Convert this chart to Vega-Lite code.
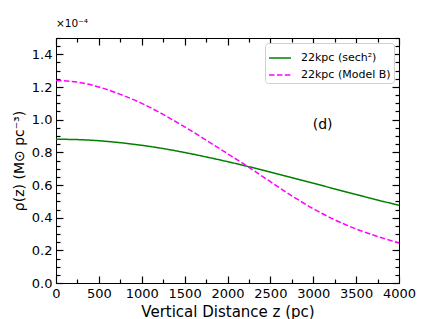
{
  "$schema": "https://vega.github.io/schema/vega-lite/v6.json",
  "width": 343,
  "height": 245,
  "autosize": {"type": "none"},
  "padding": {"left": 56, "top": 38, "right": 44, "bottom": 36},
  "background": "white",
  "config": {
    "font": "DejaVu Sans",
    "view": {"stroke": "black", "strokeWidth": 1},
    "axis": {"grid": false, "domainColor": "black", "tickColor": "black", "labelColor": "black", "titleColor": "black", "labelFont": "DejaVu Sans", "titleFont": "DejaVu Sans", "titleFontWeight": "normal"}
  },
  "title": {"text": "×10⁻⁴", "anchor": "start", "fontSize": 10.5, "fontWeight": "normal", "font": "DejaVu Sans", "color": "black", "offset": 3, "frame": "group"},
  "datasets": {
    "curves": [
      {"z": 0, "rho": 0.880, "series": "22kpc (sech²)"},
      {"z": 250, "rho": 0.878, "series": "22kpc (sech²)"},
      {"z": 500, "rho": 0.871, "series": "22kpc (sech²)"},
      {"z": 750, "rho": 0.859, "series": "22kpc (sech²)"},
      {"z": 1000, "rho": 0.843, "series": "22kpc (sech²)"},
      {"z": 1250, "rho": 0.823, "series": "22kpc (sech²)"},
      {"z": 1500, "rho": 0.799, "series": "22kpc (sech²)"},
      {"z": 1750, "rho": 0.772, "series": "22kpc (sech²)"},
      {"z": 2000, "rho": 0.743, "series": "22kpc (sech²)"},
      {"z": 2250, "rho": 0.712, "series": "22kpc (sech²)"},
      {"z": 2500, "rho": 0.679, "series": "22kpc (sech²)"},
      {"z": 2750, "rho": 0.645, "series": "22kpc (sech²)"},
      {"z": 3000, "rho": 0.611, "series": "22kpc (sech²)"},
      {"z": 3250, "rho": 0.576, "series": "22kpc (sech²)"},
      {"z": 3500, "rho": 0.542, "series": "22kpc (sech²)"},
      {"z": 3750, "rho": 0.508, "series": "22kpc (sech²)"},
      {"z": 4000, "rho": 0.476, "series": "22kpc (sech²)"},
      {"z": 0, "rho": 1.240, "series": "22kpc (Model B)"},
      {"z": 250, "rho": 1.230, "series": "22kpc (Model B)"},
      {"z": 500, "rho": 1.200, "series": "22kpc (Model B)"},
      {"z": 750, "rho": 1.155, "series": "22kpc (Model B)"},
      {"z": 1000, "rho": 1.100, "series": "22kpc (Model B)"},
      {"z": 1250, "rho": 1.032, "series": "22kpc (Model B)"},
      {"z": 1500, "rho": 0.956, "series": "22kpc (Model B)"},
      {"z": 1750, "rho": 0.875, "series": "22kpc (Model B)"},
      {"z": 2000, "rho": 0.792, "series": "22kpc (Model B)"},
      {"z": 2250, "rho": 0.708, "series": "22kpc (Model B)"},
      {"z": 2500, "rho": 0.620, "series": "22kpc (Model B)"},
      {"z": 2750, "rho": 0.534, "series": "22kpc (Model B)"},
      {"z": 3000, "rho": 0.455, "series": "22kpc (Model B)"},
      {"z": 3250, "rho": 0.387, "series": "22kpc (Model B)"},
      {"z": 3500, "rho": 0.331, "series": "22kpc (Model B)"},
      {"z": 3750, "rho": 0.285, "series": "22kpc (Model B)"},
      {"z": 4000, "rho": 0.245, "series": "22kpc (Model B)"}
    ],
    "labels": [
      {"z": 3110, "rho": 0.97, "label": "(d)"}
    ]
  },
  "layer": [
    {
      "data": {"name": "curves"},
      "mark": {"type": "line", "strokeWidth": 1.5, "interpolate": "monotone", "clip": true},
      "encoding": {
        "x": {"field": "z", "type": "quantitative",
          "scale": {"domain": [0, 4000], "nice": false},
          "axis": {
            "orient": "bottom",
            "values": [0,250,500,750,1000,1250,1500,1750,2000,2250,2500,2750,3000,3250,3500,3750,4000],
            "tickSize": {"condition": {"test": "datum.value % 500 === 0", "value": -7}, "value": -4},
            "tickWidth": 1.2,
            "labelExpr": "datum.value % 500 === 0 ? datum.label : ''",
            "format": "d",
            "labelFontSize": 13,
            "labelPadding": 11,
            "labelFlush": false,
            "labelOverlap": false,
            "title": "Vertical Distance z (pc)",
            "titleFontSize": 15,
            "titlePadding": 1
          }
        },
        "y": {"field": "rho", "type": "quantitative",
          "scale": {"domain": [0, 1.5], "nice": false},
          "axis": {
            "orient": "left",
            "values": [0,0.05,0.1,0.15,0.2,0.25,0.3,0.35,0.4,0.45,0.5,0.55,0.6,0.65,0.7,0.75,0.8,0.85,0.9,0.95,1.0,1.05,1.1,1.15,1.2,1.25,1.3,1.35,1.4,1.45,1.5],
            "tickSize": {"condition": {"test": "abs(datum.value*5 - round(datum.value*5)) < 0.000001", "value": -7}, "value": -4},
            "tickWidth": 1.2,
            "labelExpr": "abs(datum.value*5 - round(datum.value*5)) < 0.000001 && datum.value < 1.45 ? datum.label : ''",
            "format": ".1f",
            "labelFontSize": 13,
            "labelPadding": 11,
            "labelOverlap": false,
            "labelFlush": false,
            "title": "ρ(z) (M⊙ pc⁻³)",
            "titleFontSize": 14,
            "titlePadding": 5
          }
        },
        "color": {"field": "series", "type": "nominal",
          "scale": {"domain": ["22kpc (sech²)", "22kpc (Model B)"], "range": ["#008000", "#ff00ff"]},
          "legend": {
            "title": null,
            "orient": "top-right",
            "offset": 5,
            "symbolType": "stroke",
            "symbolSize": 480,
            "symbolStrokeWidth": 1.5,
            "labelFontSize": 11,
            "labelFont": "DejaVu Sans",
            "labelColor": "black",
            "strokeColor": "#d0d0d0",
            "fillColor": "white",
            "cornerRadius": 3,
            "padding": 3,
            "rowPadding": -6,
            "labelOffset": 9
          }
        },
        "strokeDash": {"field": "series", "type": "nominal",
          "scale": {"domain": ["22kpc (sech²)", "22kpc (Model B)"], "range": [[1, 0], [5.5, 2.4]]},
          "legend": {"title": null}
        }
      }
    },
    {
      "data": {"name": "labels"},
      "mark": {"type": "text", "fontSize": 14, "font": "DejaVu Sans", "color": "black"},
      "encoding": {
        "x": {"field": "z", "type": "quantitative", "scale": {"domain": [0, 4000], "nice": false}, "axis": null},
        "y": {"field": "rho", "type": "quantitative", "scale": {"domain": [0, 1.5], "nice": false}, "axis": null},
        "text": {"field": "label"}
      }
    },
    {
      "data": {"name": "curves"},
      "mark": {"type": "line", "opacity": 0},
      "encoding": {
        "x": {"field": "z", "type": "quantitative",
          "scale": {"domain": [0, 4000], "nice": false},
          "axis": {
            "orient": "top",
            "values": [0,250,500,750,1000,1250,1500,1750,2000,2250,2500,2750,3000,3250,3500,3750,4000],
            "tickSize": {"condition": {"test": "datum.value % 500 === 0", "value": -7}, "value": -4},
            "tickWidth": 1.2,
            "labels": false,
            "title": null
          }
        },
        "y": {"field": "rho", "type": "quantitative",
          "scale": {"domain": [0, 1.5], "nice": false},
          "axis": {
            "orient": "right",
            "values": [0,0.05,0.1,0.15,0.2,0.25,0.3,0.35,0.4,0.45,0.5,0.55,0.6,0.65,0.7,0.75,0.8,0.85,0.9,0.95,1.0,1.05,1.1,1.15,1.2,1.25,1.3,1.35,1.4,1.45,1.5],
            "tickSize": {"condition": {"test": "abs(datum.value*5 - round(datum.value*5)) < 0.000001", "value": -7}, "value": -4},
            "tickWidth": 1.2,
            "labels": false,
            "title": null
          }
        },
        "detail": {"field": "series"}
      }
    }
  ],
  "resolve": {"scale": {"x": "independent", "y": "independent"}}
}
